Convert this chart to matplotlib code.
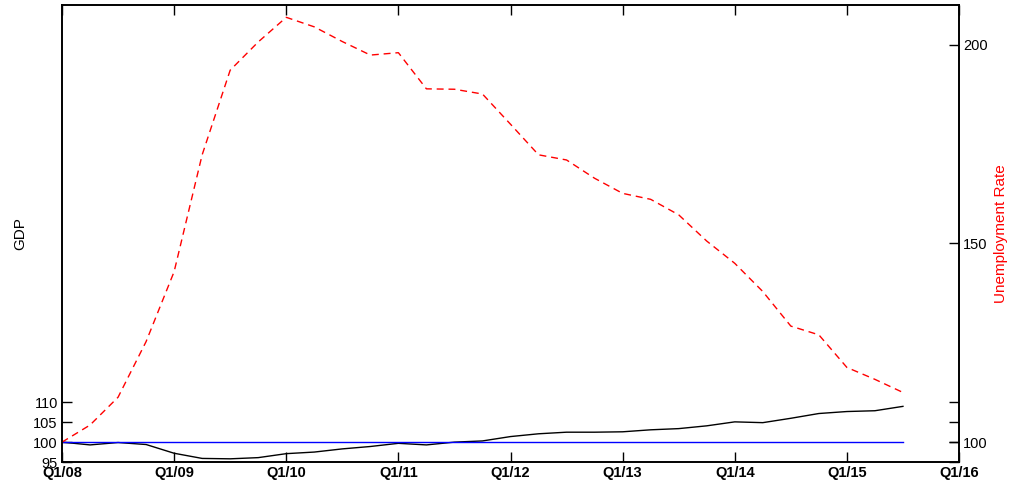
import numpy as np
import pandas as pd
import matplotlib
matplotlib.use("Agg")
import matplotlib.pyplot as plt

plt.rcParams['font.family'] = ['Liberation Sans', 'DejaVu Sans']

# quarterly index values, Q1/08 = 100
periods = pd.period_range('2008Q1', '2015Q3', freq='Q')
gdp = [100.0, 99.3, 99.9, 99.4, 97.2, 95.9, 95.8, 96.1, 97.1, 97.5,
       98.3, 98.9, 99.7, 99.3, 100.0, 100.3, 101.4, 102.1, 102.5, 102.5,
       102.6, 103.1, 103.4, 104.1, 105.1, 104.9, 106.0, 107.2, 107.7, 107.9,
       109.0]
unemployment = [100.0, 104.3, 111.3, 125.3, 142.9, 172.3, 193.6, 200.7, 206.9, 204.5,
                200.8, 197.4, 198.0, 188.9, 188.8, 187.6, 180.0, 172.3, 171.0, 166.4,
                162.6, 161.1, 157.2, 150.6, 145.0, 137.9, 129.2, 127.0, 118.8, 115.8,
                112.5]
baseline = [100.0] * len(periods)

tick_years = list(range(2008, 2017))
tick_labels = [f"Q1/{y % 100:02d}" for y in tick_years]
gdp_ticks = [95, 100, 105, 110]
unemp_ticks = [100, 150, 200]

x = periods.year + (periods.quarter - 1) / 4

fig = plt.figure(figsize=(10.12, 4.86), dpi=100)
ax = fig.add_axes([62 / 1012, 24 / 486, 897 / 1012, 457 / 486])
ax2 = ax.twinx()

ax.plot(x, gdp, color='black', lw=1)
ax.plot(x, baseline, color='blue', lw=1)
ax2.plot(x, unemployment, color='red', lw=1, dashes=(5, 3.5))

ax.set_xlim(2008, 2016)
ax.set_ylim(95, 210)
ax2.set_ylim(95, 210)

ax.set_xticks(tick_years)
ax.set_xticklabels(tick_labels, fontweight='bold')
ax.set_yticks(gdp_ticks)
ax2.set_yticks(unemp_ticks)

ax.tick_params(direction='in', length=7, width=1, top=True, right=True,
               labelright=False, labelsize=10.5, pad=3)
ax.tick_params(axis='y', pad=3)
ax2.tick_params(direction='in', length=7, width=1, labelsize=10.5, pad=3)

for a in (ax, ax2):
    for s in a.spines.values():
        s.set_linewidth(1.2)

ax.set_ylabel('GDP', fontsize=11)
ax.yaxis.set_label_coords(-0.039, 0.5)
ax2.set_ylabel('Unemployment Rate', fontsize=11, color='red')
ax2.yaxis.set_label_coords(1.039, 0.5)

fig.savefig('out.png', dpi=100)
